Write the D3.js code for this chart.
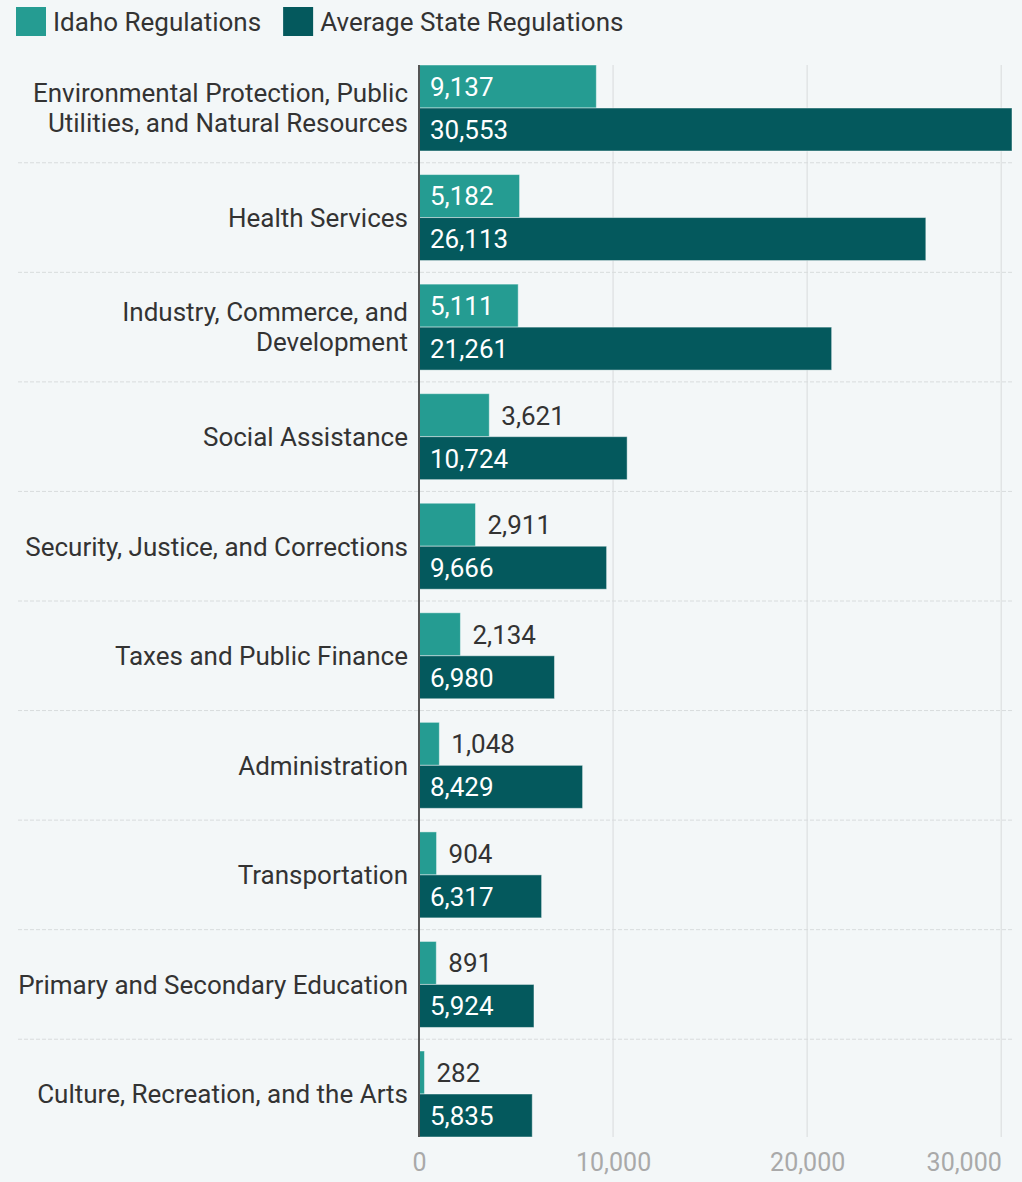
<!DOCTYPE html>
<html>
<head>
<meta charset="utf-8">
<script src="https://cdn.jsdelivr.net/npm/d3@7"></script>
<style>
  html, body { margin: 0; padding: 0; background: #f3f7f8; }
  svg { display: block; font-family: Roboto, "Noto Sans", sans-serif; }
</style>
</head>
<body>
<svg id="chart" width="1022" height="1182"></svg>
<script>
// Regulation counts by category, Idaho vs. the average state
const categories = [
  "Environmental Protection, Public Utilities, and Natural Resources",
  "Health Services",
  "Industry, Commerce, and Development",
  "Social Assistance",
  "Security, Justice, and Corrections",
  "Taxes and Public Finance",
  "Administration",
  "Transportation",
  "Primary and Secondary Education",
  "Culture, Recreation, and the Arts"
];
const idahoValues = [9137, 5182, 5111, 3621, 2911, 2134, 1048, 904, 891, 282];
const averageValues = [30553, 26113, 21261, 10724, 9666, 6980, 8429, 6317, 5924, 5835];
const seriesNames = ["Idaho Regulations", "Average State Regulations"];
const seriesColors = ["#259c92", "#04595d"];
const xTicks = [0, 10000, 20000, 30000];

const W = 1022, H = 1182;
const margin = { top: 65, right: 10, bottom: 45, left: 419 };
const fontSize = 26;

const svg = d3.select("#chart");
svg.append("rect").attr("width", W).attr("height", H).attr("fill", "#f3f7f8");

const rows = categories.map((c, i) => ({ category: c, values: [idahoValues[i], averageValues[i]] }));

const x = d3.scaleLinear()
  .domain([0, d3.max(averageValues.concat(idahoValues))])
  .range([margin.left, W - margin.right]);

const y = d3.scaleBand()
  .domain(categories)
  .range([margin.top, H - margin.bottom])
  .paddingInner(0.215)
  .paddingOuter(0);

const ySub = d3.scaleBand()
  .domain(seriesNames)
  .range([0, y.bandwidth()])
  .padding(0);

const gap = y.step() - y.bandwidth();

// vertical gridlines
svg.append("g")
  .selectAll("line")
  .data(xTicks.filter(d => d > 0))
  .join("line")
  .attr("x1", d => x(d)).attr("x2", d => x(d))
  .attr("y1", margin.top).attr("y2", H - margin.bottom)
  .attr("stroke", "#e1e4e5")
  .attr("stroke-width", 1.5);

// dashed separators between categories
svg.append("g")
  .selectAll("line")
  .data(categories.slice(1))
  .join("line")
  .attr("x1", 18).attr("x2", W - margin.right)
  .attr("y1", d => y(d) - gap / 2).attr("y2", d => y(d) - gap / 2)
  .attr("stroke", "#d8dcdd")
  .attr("stroke-width", 1)
  .attr("stroke-dasharray", "4,2");

// bars
const groups = svg.append("g")
  .selectAll("g")
  .data(rows)
  .join("g")
  .attr("transform", d => `translate(0,${y(d.category)})`);

groups.selectAll("rect")
  .data(d => d.values.map((v, k) => ({ v, k })))
  .join("rect")
  .attr("x", x(0))
  .attr("y", d => ySub(seriesNames[d.k]))
  .attr("width", d => x(d.v) - x(0))
  .attr("height", ySub.bandwidth())
  .attr("fill", d => seriesColors[d.k])
  .attr("stroke", "#ffffff")
  .attr("stroke-opacity", 0.45)
  .attr("stroke-width", 1);

// value labels: inside the bar when they fit, otherwise just past its end
const fmt = d3.format(",");
groups.selectAll("text.value")
  .data(d => d.values.map((v, k) => ({ v, k })))
  .join("text")
  .attr("class", "value")
  .attr("y", d => ySub(seriesNames[d.k]) + ySub.bandwidth() / 2)
  .attr("dy", "0.36em")
  .attr("font-size", fontSize)
  .text(d => fmt(d.v))
  .each(function (d) {
    const tw = this.getComputedTextLength();
    const bw = x(d.v) - x(0);
    const inside = bw >= tw + 24;
    d3.select(this)
      .attr("x", inside ? x(0) + 11 : x(d.v) + 12)
      .attr("fill", inside ? "#ffffff" : "#333333");
  });

// zero axis line
svg.append("line")
  .attr("x1", x(0)).attr("x2", x(0))
  .attr("y1", margin.top).attr("y2", H - margin.bottom)
  .attr("stroke", "#555555")
  .attr("stroke-width", 2);

// category labels, wrapped to the space left of the axis
const maxLabelWidth = 396;
const labelG = svg.append("g");
rows.forEach(r => {
  const t = labelG.append("text")
    .attr("font-size", fontSize)
    .attr("fill", "#333333")
    .attr("text-anchor", "end");
  const words = r.category.split(" ");
  const lines = [];
  let line = [];
  const probe = t.append("tspan");
  words.forEach(w => {
    const trial = line.concat(w).join(" ");
    probe.text(trial);
    if (probe.node().getComputedTextLength() > maxLabelWidth && line.length) {
      lines.push(line.join(" "));
      line = [w];
    } else {
      line.push(w);
    }
  });
  lines.push(line.join(" "));
  probe.remove();
  const lh = 30;
  const cy = y(r.category) + y.bandwidth() / 2;
  lines.forEach((s, i) => {
    t.append("tspan")
      .attr("x", x(0) - 11)
      .attr("y", cy + (i - (lines.length - 1) / 2) * lh)
      .attr("dy", "0.36em")
      .text(s);
  });
});

// x axis tick labels
const axis = svg.append("g")
  .attr("transform", `translate(0,${H - margin.bottom})`)
  .call(d3.axisBottom(x).tickValues(xTicks).tickSize(0).tickPadding(16).tickFormat(fmt));
axis.select(".domain").remove();
axis.selectAll("text")
  .attr("font-size", 25)
  .attr("font-family", "Roboto, 'Noto Sans', sans-serif")
  .attr("fill", "#a9a9a9")
  .attr("text-anchor", (d, i) => i === xTicks.length - 1 ? "end" : "middle");

// legend
const legend = svg.append("g");
let lx = 16;
seriesNames.forEach((name, i) => {
  legend.append("rect")
    .attr("x", lx).attr("y", 7)
    .attr("width", 30).attr("height", 29)
    .attr("fill", seriesColors[i]);
  const t = legend.append("text")
    .attr("x", lx + 37).attr("y", 22)
    .attr("dy", "0.36em")
    .attr("font-size", fontSize)
    .attr("fill", "#333333")
    .text(name);
  lx += 37 + t.node().getComputedTextLength() + 22;
});
</script>
</body>
</html>
